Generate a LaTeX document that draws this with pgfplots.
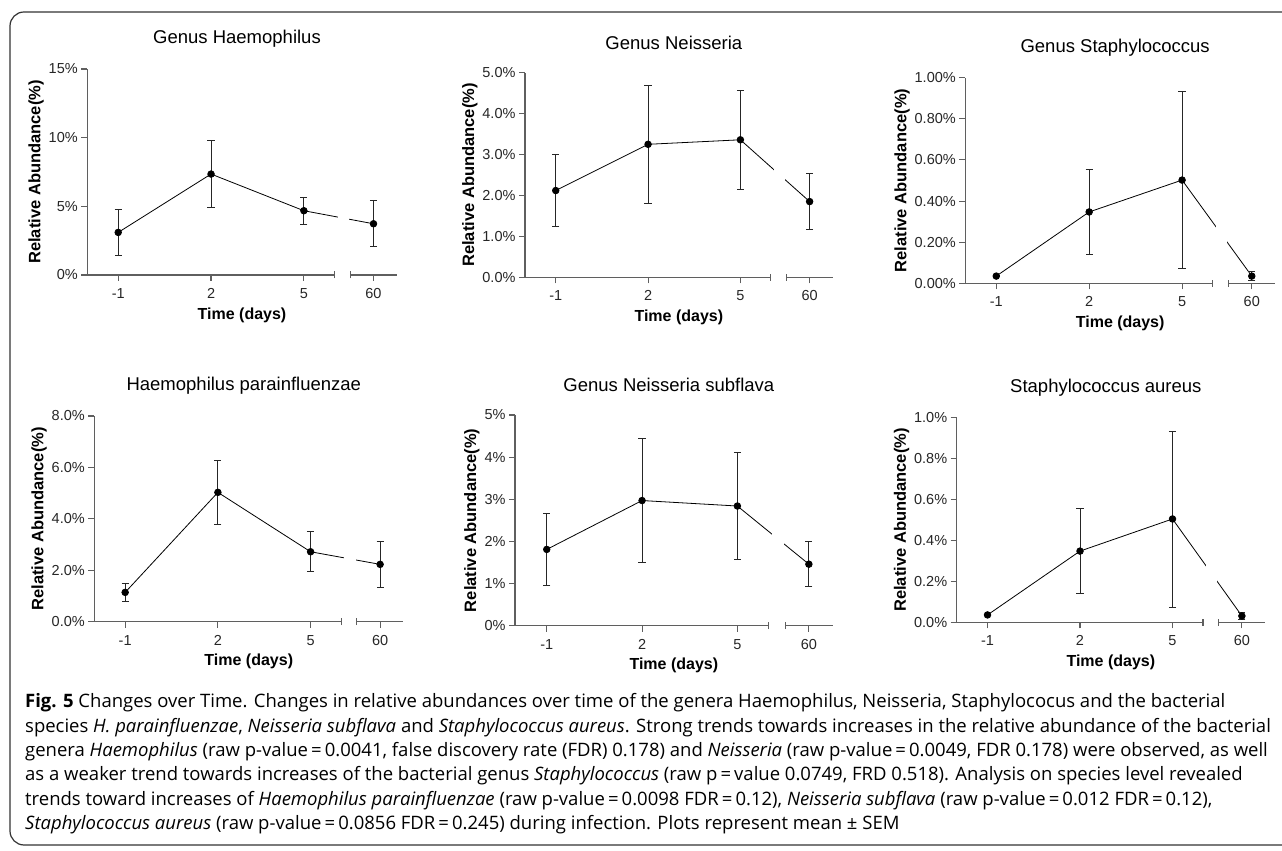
\documentclass[border=0pt]{standalone}
\usepackage{fontspec}
\setmainfont{Liberation Sans}
\newfontfamily\capfont{Open Sans}
\usepackage{pgfplots}
\pgfplotsset{compat=1.18}

\definecolor{axgray}{RGB}{95,95,95}

\pgfplotsset{
  panel/.style={
    scale only axis, anchor=south west,
    xmin=-0.333, xmax=3.0, ymin=0,
    axis x line=bottom, axis y line=left,
    axis line style={-, axgray, line width=1.1pt},
    every tick/.style={axgray, line width=1.1pt},
    tick align=outside, major tick length=6pt,
    xtick={0,1,2,2.75}, xticklabels={-1,2,5,60},
    ticklabel style={font=\fontsize{14.5}{16}\selectfont, text=black!85},
    xticklabel style={yshift=-4pt},
    /pgf/number format/assume math mode=true,
    scaled y ticks=false,
    xlabel={Time (days)}, ylabel={Relative Abundance(\%)},
    xlabel style={font=\bfseries\fontsize{16}{18}\selectfont,
      at={(axis description cs:0.5,0)}, anchor=center, yshift=-40pt},
    ylabel style={font=\bfseries\fontsize{16.5}{18}\selectfont, yshift=-2pt},
    title style={font=\fontsize{18.5}{20}\selectfont,
      at={(axis description cs:0.5,1)}, anchor=center, yshift=24pt, xshift=-5pt},
    clip=false,
  },
  series/.style={black, line width=0.8pt, mark=*, mark size=3.3pt,
    mark options={solid, fill=black},
    error bars/.cd, y dir=both, y explicit,
    error bar style={line width=0.9pt, black!85},
    error mark options={rotate=90, mark size=3.6pt, line width=0.9pt, black!85}},
}

% white gap in the x axis and in the line between 5 and 60
\newcommand\axisbreak[1]{%
  \fill[white] ([yshift=-5pt]axis cs:2.33,0) rectangle ([yshift=4pt]axis cs:2.5,0);
  \fill[white] ([yshift=3pt]axis cs:2.365,0) rectangle (axis cs:2.485,#1);
  \draw[axgray, line width=1.1pt] ([yshift=-3.5pt]axis cs:2.33,0) -- ([yshift=3.5pt]axis cs:2.33,0);
  \draw[axgray, line width=1.1pt] ([yshift=-3.5pt]axis cs:2.5,0) -- ([yshift=3.5pt]axis cs:2.5,0);
}

\begin{document}
\begin{tikzpicture}[x=1pt,y=1pt]
\useasboundingbox (0,0) rectangle (1282,851);
\draw[black!80, line width=1.2pt, rounded corners=14pt] (10,839) rectangle (1300,6);

%% Genus Haemophilus
\begin{axis}[panel, at={(87.3pt,576pt)}, width=309.4pt, height=206pt,
  ymax=15, ytick={0,5,10,15},
  yticklabel={\pgfmathprintnumber[fixed,precision=0]{\tick}\%},
  title={Genus Haemophilus}]
\addplot+[series] coordinates {(0,3.1) +- (0,1.67) (1,7.35) +- (0,2.42) (2,4.68) +- (0,0.98) (2.75,3.73) +- (0,1.67)};
\axisbreak{15}
\end{axis}

%% Genus Neisseria
\begin{axis}[panel, at={(525pt,573.7pt)}, width=307.7pt, height=204.6pt,
  ymax=5, ytick={0,1,2,3,4,5},
  yticklabel={\pgfmathprintnumber[fixed,fixed zerofill,precision=1]{\tick}\%},
  title={Genus Neisseria}]
\addplot+[series] coordinates {(0,2.12) +- (0,0.88) (1,3.25) +- (0,1.44) (2,3.36) +- (0,1.21) (2.75,1.85) +- (0,0.68)};
\axisbreak{5}
\end{axis}

%% Genus Staphylococcus
\begin{axis}[panel, at={(965.3pt,567.7pt)}, width=309.7pt, height=205.6pt,
  ymax=1, ytick={0,0.2,0.4,0.6,0.8,1},
  yticklabel={\pgfmathprintnumber[fixed,fixed zerofill,precision=2]{\tick}\%},
  title={Genus Staphylococcus}]
\addplot+[series] coordinates {(0,0.035) +- (0,0.004) (1,0.347) +- (0,0.207) (2,0.502) +- (0,0.432) (2.75,0.035) +- (0,0.023)};
\axisbreak{1}
\end{axis}

%% Haemophilus parainfluenzae
\begin{axis}[panel, at={(94.3pt,229.3pt)}, width=309pt, height=205.7pt,
  ymax=8, ytick={0,2,4,6,8},
  yticklabel={\pgfmathprintnumber[fixed,fixed zerofill,precision=1]{\tick}\%},
  title={Haemophilus parainfluenzae}]
\addplot+[series] coordinates {(0,1.14) +- (0,0.36) (1,5.03) +- (0,1.26) (2,2.72) +- (0,0.78) (2.75,2.23) +- (0,0.89)};
\axisbreak{8}
\end{axis}

%% Genus Neisseria subflava
\begin{axis}[panel, at={(515pt,225.3pt)}, width=317.7pt, height=210.7pt,
  ymax=5, ytick={0,1,2,3,4,5},
  yticklabel={\pgfmathprintnumber[fixed,precision=0]{\tick}\%},
  title={Genus Neisseria subflava}]
\addplot+[series] coordinates {(0,1.81) +- (0,0.86) (1,2.97) +- (0,1.47) (2,2.84) +- (0,1.26) (2.75,1.46) +- (0,0.53)};
\axisbreak{5}
\end{axis}

%% Staphylococcus aureus
\begin{axis}[panel, at={(956.7pt,228.7pt)}, width=308.3pt, height=204.6pt,
  ymax=1, ytick={0,0.2,0.4,0.6,0.8,1},
  yticklabel={\pgfmathprintnumber[fixed,fixed zerofill,precision=1]{\tick}\%},
  title={Staphylococcus aureus}]
\addplot+[series] coordinates {(0,0.036) +- (0,0.004) (1,0.348) +- (0,0.207) (2,0.505) +- (0,0.43) (2.75,0.031) +- (0,0.016)};
\axisbreak{1}
\end{axis}

%% caption
\begin{scope}[every node/.style={anchor=base west, inner sep=0pt, font=\capfont\fontsize{18.5}{22}\selectfont}]
\node at (25,143) {\textbf{Fig. 5} Changes over Time. Changes in relative abundances over time of the genera Haemophilus, Neisseria, Staphylococus and the bacterial};
\node at (25,118.7) {species \textit{H. parainfluenzae}, \textit{Neisseria subflava} and \textit{Staphylococcus aureus}. Strong trends towards increases in the relative abundance of the bacterial};
\node at (25,94.4) {genera \textit{Haemophilus} (raw p-value\,=\,0.0041, false discovery rate (FDR) 0.178) and \textit{Neisseria} (raw p-value\,=\,0.0049, FDR 0.178) were observed, as well};
\node at (25,70.1) {as a weaker trend towards increases of the bacterial genus \textit{Staphylococcus} (raw p\,=\,value 0.0749, FRD 0.518). Analysis on species level revealed};
\node at (25,45.8) {trends toward increases of \textit{Haemophilus parainfluenzae} (raw p-value\,=\,0.0098 FDR\,=\,0.12), \textit{Neisseria subflava} (raw p-value\,=\,0.012 FDR\,=\,0.12),};
\node at (25,21.5) {\textit{Staphylococcus aureus} (raw p-value\,=\,0.0856 FDR\,=\,0.245) during infection. Plots represent mean ± SEM};
\end{scope}
\end{tikzpicture}
\end{document}
